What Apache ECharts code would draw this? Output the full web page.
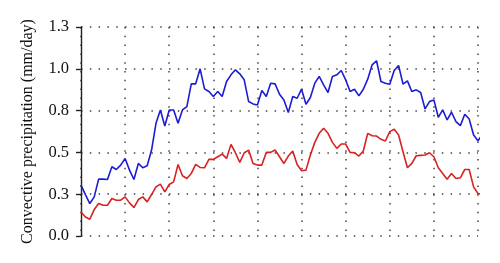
<!DOCTYPE html>
<html><head><meta charset="utf-8">
<script src="https://cdn.jsdelivr.net/npm/echarts@6/dist/echarts.min.js"></script>
<style>html,body{margin:0;padding:0;background:#fff}#c{width:500px;height:263px}</style>
</head><body><div id="c"></div>
<script>
var blue = [0.304,0.248,0.194,0.234,0.34,0.34,0.338,0.414,0.398,0.424,0.464,0.394,0.338,0.434,0.408,0.42,0.514,0.674,0.754,0.658,0.754,0.754,0.674,0.754,0.774,0.91,0.91,1.0,0.88,0.864,0.834,0.864,0.834,0.924,0.964,0.994,0.97,0.934,0.804,0.79,0.784,0.87,0.834,0.914,0.91,0.848,0.814,0.738,0.834,0.824,0.878,0.788,0.828,0.914,0.954,0.904,0.858,0.954,0.964,0.99,0.934,0.864,0.878,0.838,0.878,0.938,1.024,1.048,0.924,0.914,0.908,0.99,1.02,0.908,0.928,0.864,0.874,0.858,0.76,0.804,0.814,0.71,0.754,0.694,0.74,0.684,0.66,0.728,0.7,0.604,0.57,0.608];
var red = [0.144,0.114,0.1,0.158,0.194,0.184,0.184,0.224,0.214,0.214,0.234,0.198,0.17,0.218,0.234,0.204,0.248,0.294,0.31,0.264,0.308,0.324,0.428,0.36,0.344,0.374,0.428,0.41,0.408,0.458,0.458,0.474,0.49,0.464,0.548,0.498,0.44,0.498,0.514,0.434,0.424,0.424,0.5,0.5,0.514,0.474,0.434,0.478,0.508,0.428,0.39,0.394,0.484,0.56,0.614,0.644,0.614,0.56,0.524,0.55,0.55,0.5,0.498,0.478,0.508,0.614,0.6,0.598,0.578,0.568,0.624,0.638,0.604,0.504,0.408,0.434,0.48,0.482,0.484,0.498,0.474,0.408,0.374,0.34,0.374,0.344,0.348,0.398,0.398,0.294,0.254,0.25];
var yTicks = [0, 0.25, 0.5, 0.75, 1.0, 1.25];
var yName = 'Convective precipitation (mm/day)';

function pairs(arr){ return arr.map(function(v,i){ return [i, v]; }); }
var dotted = { color: '#444', width: 1.5, type: [1.5, 7.3] };
var chart = echarts.init(document.getElementById('c'), null, {renderer:'canvas'});
chart.setOption({
  animation: false,
  grid: { left: 81, right: 22, top: 27, bottom: 27 },
  xAxis: {
    type: 'value', min: 0, max: 90, interval: 10,
    axisLine: { show: false }, axisTick: { show: false }, axisLabel: { show: false },
    splitLine: { show: true, lineStyle: dotted }
  },
  yAxis: {
    type: 'value', min: yTicks[0], max: yTicks[yTicks.length-1], interval: 0.25,
    name: yName, nameLocation: 'middle', nameGap: 45, nameRotate: 90,
    nameTextStyle: { fontFamily: 'Liberation Serif', fontSize: 16, color: '#111' },
    axisLine: { show: true, lineStyle: { color: '#222', width: 1.4 } },
    axisTick: { show: true, length: 5, inside: false, lineStyle: { color: '#222', width: 1.4 } },
    axisLabel: { fontFamily: 'Liberation Serif', fontSize: 16.5, color: '#111', margin: 12,
      formatter: function(v){ return v.toFixed(1); } },
    splitLine: { show: true, lineStyle: dotted }
  },
  series: [
    { type: 'line', data: pairs(blue), symbol: 'none', clip: false,
      lineStyle: { color: '#1c1cd4', width: 1.6 } },
    { type: 'line', data: pairs(red), symbol: 'none', clip: false,
      lineStyle: { color: '#d82222', width: 1.6 } }
  ]
});
</script></body></html>
